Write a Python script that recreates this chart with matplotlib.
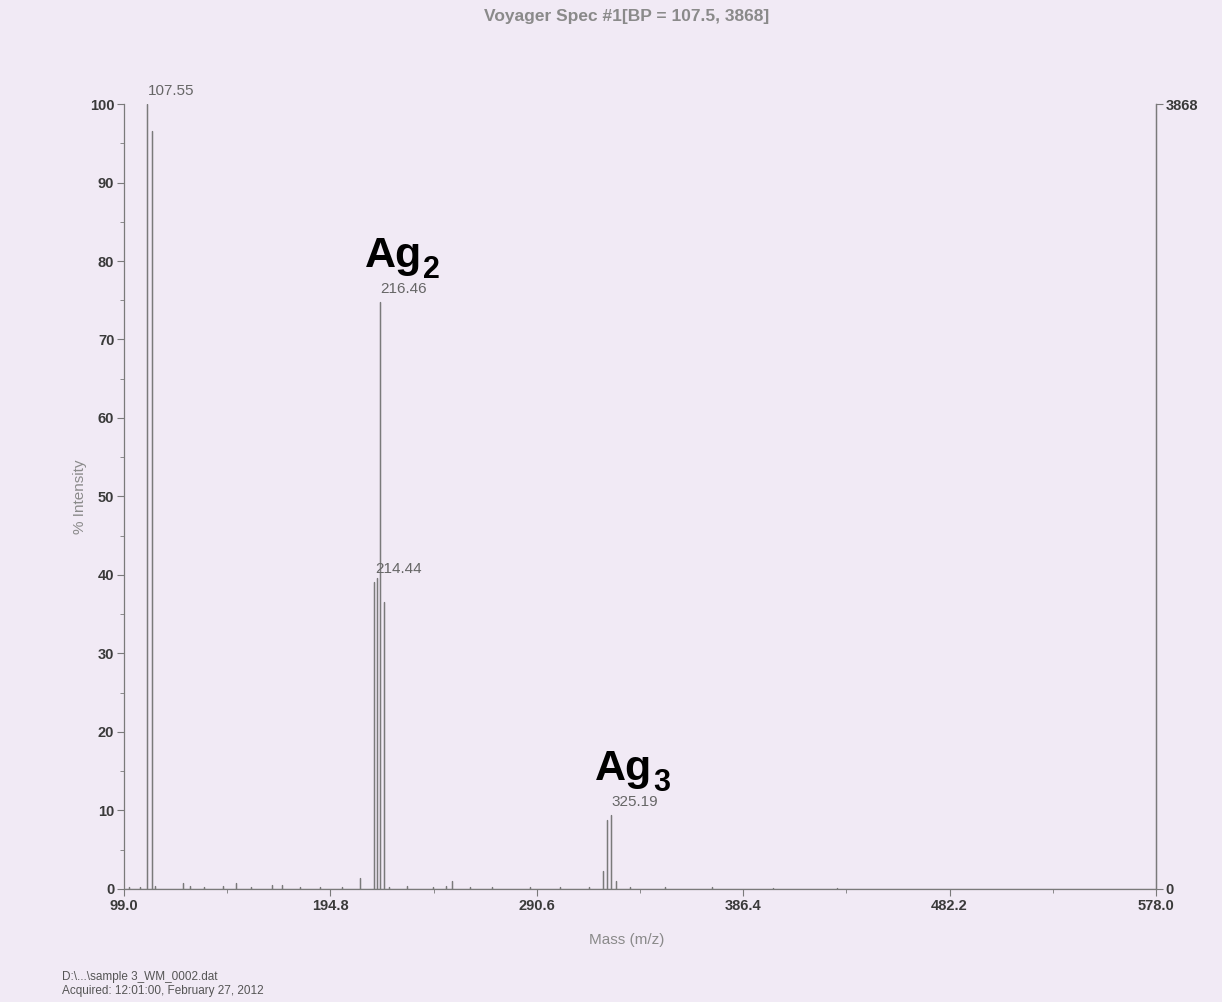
import numpy as np
import matplotlib.pyplot as plt

plt.rcParams['font.family'] = ['Liberation Sans', 'DejaVu Sans']

# stick spectrum (m/z, % intensity)
peak_mz = [109.7, 111.8, 215.1, 216.3, 217.8, 219.5, 321.2, 323.1, 325.1, 327.3]
peak_int = [100.0, 96.5, 39.1, 39.6, 74.8, 36.5, 2.3, 8.8, 9.4, 1.0]

noise_mz = [101.5, 106.2, 113.5, 126.4, 129.6, 136.0, 145.0, 150.9, 158.0, 167.7,
            172.2, 180.5, 190.0, 200.2, 208.6, 222.0, 230.5, 242.5, 248.5, 251.3,
            259.6, 270.0, 287.5, 301.4, 315.0, 334.0, 350.0, 372.0, 400.0, 430.0]
noise_int = [0.2, 0.3, 0.4, 0.7, 0.4, 0.3, 0.4, 0.7, 0.3, 0.5,
             0.5, 0.3, 0.3, 0.3, 1.4, 0.3, 0.4, 0.3, 0.4, 1.0,
             0.3, 0.2, 0.3, 0.3, 0.2, 0.2, 0.2, 0.2, 0.15, 0.15]

labels = ["107.55", "216.46", "214.44", "325.19"]
label_mz = [109.7, 217.8, 215.1, 325.1]
label_int = [100.0, 74.8, 39.1, 9.4]

cluster_names = ["Ag", "Ag"]
cluster_sub = ["2", "3"]
cluster_mz = [210.9, 317.7]
cluster_int = [79.2, 13.9]

xticks = [99.0, 194.8, 290.6, 386.4, 482.2, 578.0]
yticks = [0, 10, 20, 30, 40, 50, 60, 70, 80, 90, 100]
max_counts = 3868

grey = "#7a7a7a"
dark = "#3a3a3a"
bg = "#f1eaf5"

fig = plt.figure(figsize=(12.22, 10.02), dpi=100, facecolor=bg)
ax = fig.add_axes([0.1015, 0.1128, 0.8445, 0.7834], facecolor=bg)

mz = np.array(noise_mz + peak_mz)
it = np.array(noise_int + peak_int)
order = np.argsort(mz)
mz, it = mz[order], it[order]
xs = np.repeat(mz, 3)
ys = np.column_stack([np.zeros_like(it), it, np.zeros_like(it)]).ravel()
xs = np.concatenate([[99.0], xs, [578.0]])
ys = np.concatenate([[0.0], ys, [0.0]])
ax.plot(xs, ys, color=grey, lw=0.9)

for t, x, y in zip(labels, label_mz, label_int):
    ax.text(x + 0.3, y + 0.8, t, color="#666666", fontsize=11, ha="left", va="bottom")

for t, s, x, y in zip(cluster_names, cluster_sub, cluster_mz, cluster_int):
    main = ax.text(x, y, t, fontsize=31, fontweight="bold", color="black",
                   ha="left", va="baseline")
    ax.annotate(s, xy=(1, 0), xycoords=main, xytext=(0.5, -1.5),
                textcoords="offset points", fontsize=22, fontweight="bold",
                color="black", ha="left", va="baseline")

ax.set_xlim(99.0, 578.0)
ax.set_ylim(0, 100)
ax.set_xticks(xticks)
ax.set_xticklabels([f"{v:.1f}" for v in xticks])
ax.set_xticks([(a + b) / 2 for a, b in zip(xticks[:-1], xticks[1:])], minor=True)
ax.set_yticks(yticks)
ax.set_yticks([v + 5 for v in yticks[:-1]], minor=True)
ax.tick_params(axis="both", which="major", length=5, color=grey, labelcolor=dark,
               labelsize=10.5)
ax.tick_params(axis="both", which="minor", length=3, color=grey)
ax.tick_params(axis="y", pad=2)
ax.tick_params(axis="x", pad=2)
for lab in ax.get_xticklabels() + ax.get_yticklabels():
    lab.set_fontweight("bold")

ax.spines["top"].set_visible(False)
for s in ["left", "bottom", "right"]:
    ax.spines[s].set_color(grey)
    ax.spines[s].set_linewidth(0.9)

ax2 = ax.twinx()
ax2.set_ylim(0, max_counts)
ax2.set_yticks([0, max_counts])
ax2.tick_params(axis="y", length=5, color=grey, labelcolor=dark, labelsize=10.5, pad=2)
for lab in ax2.get_yticklabels():
    lab.set_fontweight("bold")
for s in ["top", "left", "bottom"]:
    ax2.spines[s].set_visible(False)
ax2.spines["right"].set_color(grey)
ax2.spines["right"].set_linewidth(0.9)

ax.set_xlabel("Mass (m/z)", color="#8a8a8a", fontsize=11)
ax.xaxis.set_label_coords(0.487, -0.056)
ax.set_ylabel("% Intensity", color="#8a8a8a", fontsize=11)
ax.yaxis.set_label_coords(-0.036, 0.5)
fig.text(0.513, 0.991, "Voyager Spec #1[BP = 107.5, 3868]", color="#8a8a8a",
         fontsize=12.5, fontweight="bold", ha="center", va="top")

fig.text(0.051, 0.031, "D:\\...\\sample 3_WM_0002.dat\nAcquired: 12:01:00, February 27, 2012",
         color="#555555", fontsize=8.5, ha="left", va="top", linespacing=1.2)

fig.savefig("out.png", dpi=100, facecolor=bg)
